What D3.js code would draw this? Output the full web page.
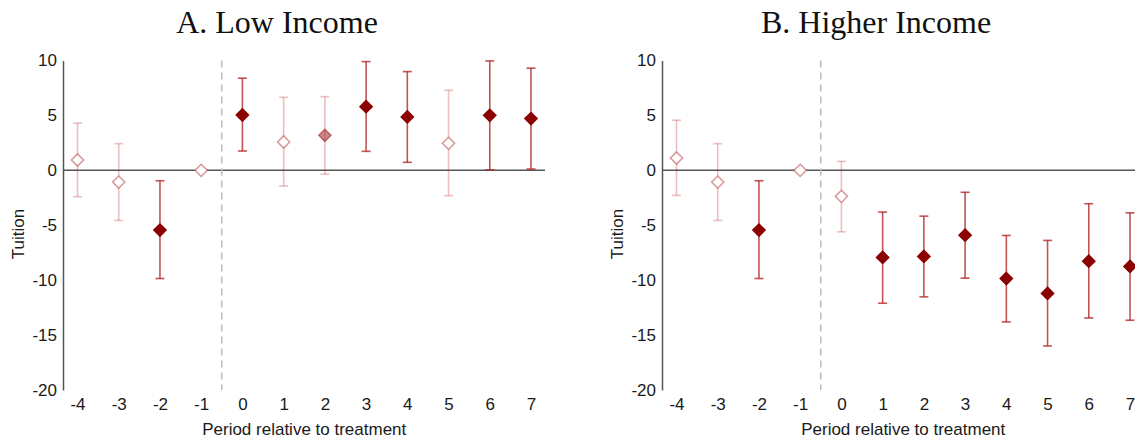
<!DOCTYPE html>
<html>
<head>
<meta charset="utf-8">
<script src="https://cdn.jsdelivr.net/npm/d3@7"></script>
<style>
  body { margin: 0; background: #fff; }
  svg { display: block; }
  .tick text { font-family: "Liberation Sans", Arial, sans-serif; font-size: 17px; fill: #1a1a1a; }
  .title { font-family: "Liberation Serif", "DejaVu Serif", serif; font-size: 32px; fill: #111; }
  .label { font-family: "Liberation Sans", Arial, sans-serif; font-size: 17px; fill: #1a1a1a; }
</style>
</head>
<body>
<script>
var periods = [-4, -3, -2, -1, 0, 1, 2, 3, 4, 5, 6, 7];

// A. Low Income
var lowCoef = [0.94, -1.07, -5.44, 0, 5.04, 2.58, 3.19, 5.8, 4.86, 2.46, 5.01, 4.71];
var lowLo   = [-2.4, -4.56, -9.85, null, 1.76, -1.43, -0.34, 1.73, 0.73, -2.31, 0.05, 0.12];
var lowHi   = [4.3, 2.43, -0.95, null, 8.39, 6.65, 6.71, 9.9, 8.99, 7.29, 9.96, 9.3];
var lowSig  = [0, 0, 2, 0, 2, 0, 1, 2, 2, 0, 2, 2];

// B. Higher Income
var highCoef = [1.12, -1.07, -5.44, 0, -2.37, -7.93, -7.84, -5.9, -9.85, -11.21, -8.27, -8.75];
var highLo   = [-2.28, -4.56, -9.85, null, -5.6, -12.1, -11.52, -9.82, -13.8, -15.99, -13.44, -13.65];
var highHi   = [4.56, 2.43, -0.95, null, 0.82, -3.8, -4.17, -2.0, -5.93, -6.38, -3.04, -3.87];
var highSig  = [0, 0, 2, 0, 0, 2, 2, 2, 2, 2, 2, 2];

var yTicks = [10, 5, 0, -5, -10, -15, -20];

var width = 1135, height = 438;

var svg = d3.select("body").append("svg")
    .attr("width", width)
    .attr("height", height);

var y = d3.scaleLinear().domain([-20, 10]).range([390, 60.5]);
var plain = function (d) { return String(d); };  // hyphen minus like the original

function drawPanel(axisX, rightEdge, title, titleX, coef, lo, hi, sig) {
  var x = d3.scaleLinear().domain([-4, 7]).range([axisX + 14.5, axisX + 468]);
  var g = svg.append("g");

  g.append("text")
    .attr("class", "title")
    .attr("x", titleX)
    .attr("y", 33)
    .attr("text-anchor", "middle")
    .text(title);

  // y axis
  var yAxis = d3.axisLeft(y).tickValues(yTicks).tickSize(0).tickPadding(6).tickFormat(plain);
  var ya = g.append("g")
    .attr("transform", "translate(" + axisX + ",0)")
    .call(yAxis);
  ya.select(".domain").attr("stroke", "#555").attr("stroke-width", 1.5);

  // x axis labels only
  var xAxis = d3.axisBottom(x).tickValues(periods).tickSize(0).tickPadding(8).tickFormat(plain);
  var xa = g.append("g")
    .attr("transform", "translate(0,390)")
    .call(xAxis);
  xa.select(".domain").remove();

  // zero line
  g.append("line")
    .attr("x1", axisX).attr("x2", rightEdge)
    .attr("y1", y(0)).attr("y2", y(0))
    .attr("stroke", "#555").attr("stroke-width", 1.5);

  // treatment line
  g.append("line")
    .attr("x1", x(-0.5)).attr("x2", x(-0.5))
    .attr("y1", y(10)).attr("y2", y(-20))
    .attr("stroke", "#bbb").attr("stroke-width", 1.5)
    .attr("stroke-dasharray", "7,5");

  var data = periods.map(function (p, i) {
    return { p: p, c: coef[i], lo: lo[i], hi: hi[i], s: sig[i] };
  });

  var ci = data.filter(function (d) { return d.lo !== null; });
  var ciColor = function (d) { return d.s === 2 ? "rgba(178,34,34,0.78)" : "rgba(178,34,34,0.28)"; };

  var bars = g.selectAll(".ci").data(ci).enter().append("g").attr("class", "ci");
  bars.append("line")
    .attr("x1", function (d) { return x(d.p); })
    .attr("x2", function (d) { return x(d.p); })
    .attr("y1", function (d) { return y(d.lo); })
    .attr("y2", function (d) { return y(d.hi); })
    .attr("stroke", ciColor).attr("stroke-width", 1.6);
  bars.selectAll(".cap")
    .data(function (d) { return [{ p: d.p, v: d.lo, s: d.s }, { p: d.p, v: d.hi, s: d.s }]; })
    .enter().append("line")
    .attr("x1", function (d) { return x(d.p) - 4.5; })
    .attr("x2", function (d) { return x(d.p) + 4.5; })
    .attr("y1", function (d) { return y(d.v); })
    .attr("y2", function (d) { return y(d.v); })
    .attr("stroke", ciColor).attr("stroke-width", 1.6);

  var diamond = d3.symbol().type(d3.symbolDiamond2).size(95);
  g.selectAll(".pt").data(data).enter().append("path")
    .attr("class", "pt")
    .attr("d", diamond)
    .attr("transform", function (d) { return "translate(" + x(d.p) + "," + y(d.c) + ")"; })
    .attr("fill", function (d) { return d.s === 2 ? "#8b0000" : d.s === 1 ? "rgba(160,40,40,0.55)" : "#fff"; })
    .attr("stroke", function (d) { return d.s === 2 ? "#8b0000" : d.s === 1 ? "rgba(160,40,40,0.6)" : "rgba(190,80,80,0.6)"; })
    .attr("stroke-width", 1.5);

  g.append("text")
    .attr("class", "label")
    .attr("x", (axisX + 14.5 + axisX + 468) / 2)
    .attr("y", 435)
    .attr("text-anchor", "middle")
    .text("Period relative to treatment");

  g.append("text")
    .attr("class", "label")
    .attr("transform", "translate(" + (axisX - 39) + ",234) rotate(-90)")
    .attr("text-anchor", "middle")
    .text("Tuition");
}

drawPanel(63, 545, "A. Low Income", 277, lowCoef, lowLo, lowHi, lowSig);
drawPanel(662, 1135, "B. Higher Income", 876, highCoef, highLo, highHi, highSig);
</script>
</body>
</html>
